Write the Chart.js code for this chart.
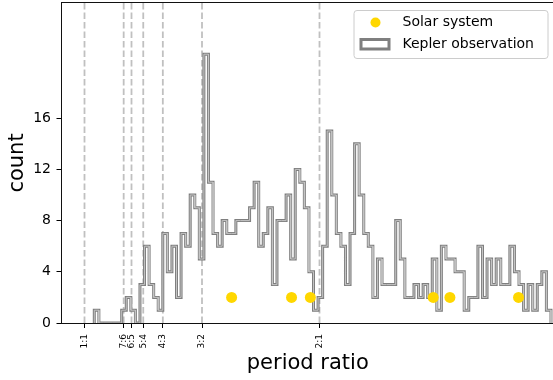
<!DOCTYPE html>
<html>
<head>
<meta charset="utf-8">
<script src="https://cdn.jsdelivr.net/npm/chart.js@4.4.1/dist/chart.umd.min.js"></script>
<style>
  html, body { margin: 0; padding: 0; overflow: hidden; background: #fff; }
  #wrap { position: relative; width: 556px; height: 380px; }
</style>
</head>
<body>
<div id="wrap"><canvas id="hist" width="556" height="380"></canvas></div>
<script>
// period-ratio histogram, 100 equal bins between the smallest and largest ratio
const binLo = 1.0417;
const binHi = 2.9850;
const keplerCounts = [
  1, 0, 0, 0, 0, 0, 1, 2, 1, 0,
  3, 6, 3, 2, 1, 7, 4, 6, 2, 7,
  6, 10, 9, 5, 21, 11, 7, 6, 8, 7,
  7, 8, 8, 8, 9, 11, 6, 7, 9, 3,
  8, 8, 10, 5, 12, 11, 9, 4, 1, 2,
  6, 15, 10, 7, 6, 3, 7, 14, 10, 7,
  6, 2, 5, 3, 3, 3, 8, 5, 2, 2,
  3, 2, 3, 2, 5, 1, 6, 5, 5, 4,
  4, 1, 2, 2, 6, 2, 5, 3, 5, 3,
  3, 6, 4, 3, 1, 3, 1, 3, 4, 1
];

// neighbouring planet pairs of the solar system (Venus/Mercury ... Neptune/Uranus)
const solarRatios = [1.626, 1.881, 1.961, 2.484, 2.555, 2.847];
const solarHeights = [2, 2, 2, 2, 2, 2];

// mean motion resonances marked on the x axis
const resonanceValues = [1, 7 / 6, 6 / 5, 5 / 4, 4 / 3, 3 / 2, 2];
const resonanceLabels = ['1:1', '7:6', '6:5', '5:4', '4:3', '3:2', '2:1'];

const countTicks = [0, 4, 8, 12, 16];
const xRange = [0.9, 3.0];
const yRange = [0, 25];

const FONT = 'DejaVu Sans';

// step outline like histtype='step'
const binW = (binHi - binLo) / keplerCounts.length;
const outline = [{ x: binLo, y: 0 }];
keplerCounts.forEach((c, i) => {
  outline.push({ x: binLo + i * binW, y: c });
  outline.push({ x: binLo + (i + 1) * binW, y: c });
});
outline.push({ x: binHi, y: 0 });

const resonanceSets = resonanceValues.map(v => ({
  data: [{ x: v, y: yRange[0] }, { x: v, y: yRange[1] }],
  showLine: true,
  borderColor: '#c0c0c0',
  borderWidth: 1.8,
  borderDash: [6.5, 3],
  pointRadius: 0,
  order: 5
}));

// no extra room for the tick labels, the plot box is fixed
const noPad = scale => {
  scale.paddingTop = 0;
  scale.paddingBottom = 0;
  scale.paddingLeft = 0;
  scale.paddingRight = 0;
};

const frame = {
  id: 'frame',
  afterDatasetsDraw(chart) {
    const { ctx, chartArea: a } = chart;
    ctx.save();
    ctx.strokeStyle = '#111';
    ctx.lineWidth = 1;
    ctx.strokeRect(Math.round(a.left) + 0.5, Math.round(a.top) - 0.5,
      a.right - a.left, Math.round(a.bottom) - Math.round(a.top) + 1);
    ctx.restore();
  }
};

const legendBox = {
  id: 'legendBox',
  afterDraw(chart) {
    const { ctx, chartArea: a } = chart;
    const w = 194, h = 48;
    const x0 = a.right - 7 - w, y0 = a.top + 7;
    ctx.save();
    ctx.beginPath();
    ctx.roundRect(x0 + 0.5, y0 + 0.5, w, h, 3);
    ctx.fillStyle = 'rgba(255,255,255,0.8)';
    ctx.fill();
    ctx.strokeStyle = '#cccccc';
    ctx.lineWidth = 1;
    ctx.stroke();

    // yellow marker
    ctx.beginPath();
    ctx.arc(x0 + 22, y0 + 12.5, 5, 0, Math.PI * 2);
    ctx.fillStyle = '#ffd700';
    ctx.fill();

    // outlined patch for the histogram
    ctx.strokeStyle = '#7f7f7f';
    ctx.lineWidth = 3;
    ctx.strokeRect(x0 + 7.5, y0 + 29.5, 28, 9.5);

    ctx.fillStyle = '#000';
    ctx.font = '14px "' + FONT + '"';
    ctx.textBaseline = 'middle';
    ctx.fillText('Solar system', x0 + 49, y0 + 12.5);
    ctx.fillText('Kepler observation', x0 + 49, y0 + 34.5);
    ctx.restore();
  }
};

new Chart(document.getElementById('hist').getContext('2d'), {
  type: 'scatter',
  data: {
    datasets: [
      ...resonanceSets,
      {
        label: 'Kepler observation',
        data: outline,
        showLine: true,
        borderColor: '#7f7f7f',
        borderWidth: 3,
        pointRadius: 0,
        order: 3
      },
      {
        data: outline,
        showLine: true,
        borderColor: '#c4c4c4',
        borderWidth: 1,
        pointRadius: 0,
        order: 2
      },
      {
        label: 'Solar system',
        data: solarRatios.map((r, i) => ({ x: r, y: solarHeights[i] })),
        backgroundColor: '#ffd700',
        borderWidth: 0,
        pointRadius: 5.5,
        order: 0
      }
    ]
  },
  options: {
    responsive: false,
    devicePixelRatio: 1,
    animation: false,
    events: [],
    layout: { autoPadding: false, padding: { top: 3, right: 1.5, left: 0, bottom: 0 } },
    plugins: { legend: { display: false }, tooltip: { enabled: false } },
    scales: {
      x: {
        type: 'linear',
        min: xRange[0],
        max: xRange[1],
        afterBuildTicks: axis => { axis.ticks = resonanceValues.map(v => ({ value: v })); },
        afterFit: scale => { scale.height = 57; noPad(scale); },
        ticks: {
          autoSkip: false,
          minRotation: 90,
          maxRotation: 90,
          padding: 6,
          color: '#000',
          font: { family: FONT, size: 9 },
          callback: (v, i) => resonanceLabels[i]
        },
        grid: { drawOnChartArea: false, drawTicks: true, tickLength: 5, tickColor: '#000', tickWidth: 1 },
        border: { display: false },
        title: {
          display: true,
          text: 'period ratio',
          color: '#000',
          font: { family: FONT, size: 21 },
          padding: { top: 0, bottom: 4 }
        }
      },
      y: {
        min: yRange[0],
        max: yRange[1],
        afterBuildTicks: axis => { axis.ticks = countTicks.map(v => ({ value: v })); },
        afterFit: scale => { scale.width = 61; noPad(scale); },
        ticks: {
          padding: 5.5,
          color: '#000',
          font: { family: FONT, size: 14 }
        },
        grid: { drawOnChartArea: false, drawTicks: true, tickLength: 4.5, tickColor: '#000', tickWidth: 1 },
        border: { display: false },
        title: {
          display: true,
          text: 'count',
          color: '#000',
          font: { family: FONT, size: 21 },
          padding: { top: 5, bottom: 0 }
        }
      }
    }
  },
  plugins: [frame, legendBox]
});
</script>
</body>
</html>
